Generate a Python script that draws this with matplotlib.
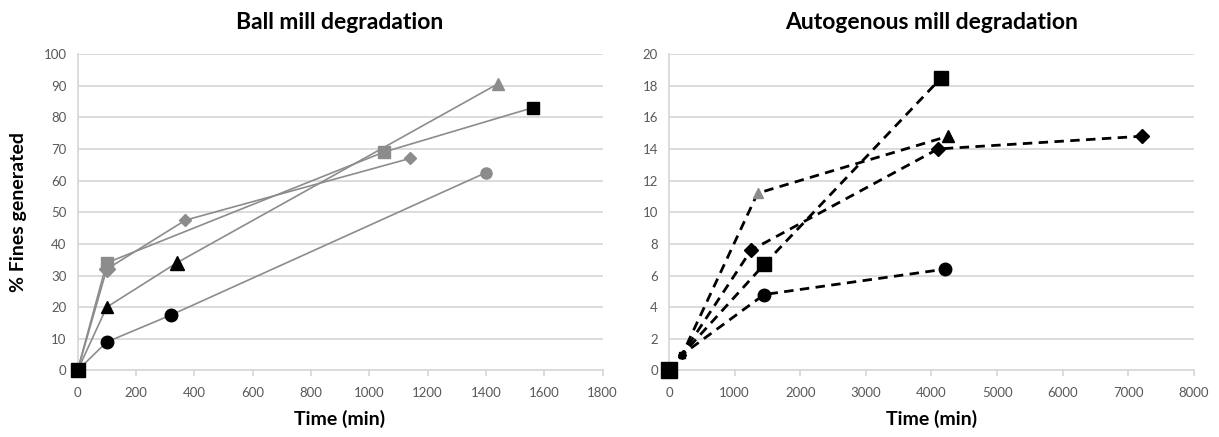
import matplotlib.pyplot as plt

plt.rcParams['font.family'] = ['Lato', 'DejaVu Sans']

# Ball mill degradation: time (min) vs % fines
ball_diamond_t = [0, 100, 370, 1140]
ball_diamond_y = [0, 32, 47.5, 67]
ball_square_t = [0, 100, 1050, 1560]
ball_square_y = [0, 34, 69, 83]
ball_triangle_t = [0, 100, 340, 1440]
ball_triangle_y = [0, 20, 34, 90.5]
ball_circle_t = [0, 100, 320, 1400]
ball_circle_y = [0, 9, 17.5, 62.5]

# Autogenous mill degradation
ag_diamond_t = [0, 200, 1250, 4100, 7200]
ag_diamond_y = [0, 1, 7.6, 14, 14.8]
ag_square_t = [0, 200, 1450, 4150]
ag_square_y = [0, 1, 6.7, 18.5]
ag_triangle_t = [0, 200, 1350, 4250]
ag_triangle_y = [0, 1, 11.2, 14.8]
ag_circle_t = [0, 200, 1450, 4200]
ag_circle_y = [0, 1, 4.8, 6.4]

GREY = '#8c8c8c'
BLK = '#000000'
GRID = '#d9d9d9'
TXT = '#595959'

fig = plt.figure(figsize=(12.19, 4.37), dpi=100)
ax1 = fig.add_axes([0.0636, 0.1522, 0.4307, 0.7243])
ax2 = fig.add_axes([0.5488, 0.1522, 0.4307, 0.7243])


def style(ax, xmax, xstep, ymax, ystep):
    ax.set_xlim(0, xmax)
    ax.set_ylim(0, ymax)
    ax.set_xticks(range(0, xmax + 1, xstep))
    ax.set_yticks(range(0, ymax + 1, ystep))
    ax.grid(axis='y', color=GRID, linewidth=1.3)
    ax.set_axisbelow(True)
    for s in ['top', 'right']:
        ax.spines[s].set_visible(False)
    for s in ['left', 'bottom']:
        ax.spines[s].set_color(GRID)
        ax.spines[s].set_linewidth(1.3)
    ax.tick_params(axis='x', colors=GRID, length=4, width=1.3, labelcolor=TXT,
                   labelsize=9.5, pad=8)
    ax.tick_params(axis='y', length=0, labelcolor=TXT, labelsize=9.5, pad=8)


def draw(ax, t, y, ls, lc, lw, marker, colors, sizes):
    line, = ax.plot(t, y, linestyle=ls, color=lc, linewidth=lw, zorder=2)
    if ls == '--':
        line.set_dashes((3.4, 2.3))
    for xi, yi, c, s in zip(t, y, colors, sizes):
        ax.plot(xi, yi, marker=marker, color=c, markersize=s, linestyle='none',
                zorder=3, clip_on=False)


# left chart
style(ax1, 1800, 200, 100, 10)
draw(ax1, ball_circle_t, ball_circle_y, '-', GREY, 1.2, 'o',
     [BLK, BLK, BLK, GREY], [9, 9, 9, 8])
draw(ax1, ball_triangle_t, ball_triangle_y, '-', GREY, 1.2, '^',
     [BLK, BLK, BLK, GREY], [9, 9, 10, 8])
draw(ax1, ball_diamond_t, ball_diamond_y, '-', GREY, 1.2, 'D',
     [BLK, GREY, GREY, GREY], [7, 8, 6, 6])
draw(ax1, ball_square_t, ball_square_y, '-', GREY, 1.2, 's',
     [BLK, GREY, GREY, BLK], [10, 9, 9, 9])
ax1.set_title('Ball mill degradation', fontsize=16.5, fontweight='bold', pad=18)
ax1.set_xlabel('Time (min)', fontsize=14, fontweight='bold', labelpad=8)
ax1.set_ylabel('% Fines generated', fontsize=14, fontweight='bold', labelpad=12)

# right chart
style(ax2, 8000, 1000, 20, 2)
draw(ax2, ag_circle_t, ag_circle_y, '--', BLK, 2.0, 'o',
     [BLK, BLK, BLK, BLK], [0, 4, 9, 9])
draw(ax2, ag_square_t, ag_square_y, '--', BLK, 2.0, 's',
     [BLK, BLK, BLK, BLK], [11, 4, 10, 10])
draw(ax2, ag_diamond_t, ag_diamond_y, '--', BLK, 2.0, 'D',
     [BLK, BLK, BLK, BLK, BLK], [0, 4, 7, 7, 7])
draw(ax2, ag_triangle_t, ag_triangle_y, '--', BLK, 2.0, '^',
     [BLK, BLK, GREY, BLK], [0, 4, 7, 9])
ax2.set_title('Autogenous mill degradation', fontsize=16.5, fontweight='bold', pad=18)
ax2.set_xlabel('Time (min)', fontsize=14, fontweight='bold', labelpad=8)

fig.savefig('out.png', dpi=100)
